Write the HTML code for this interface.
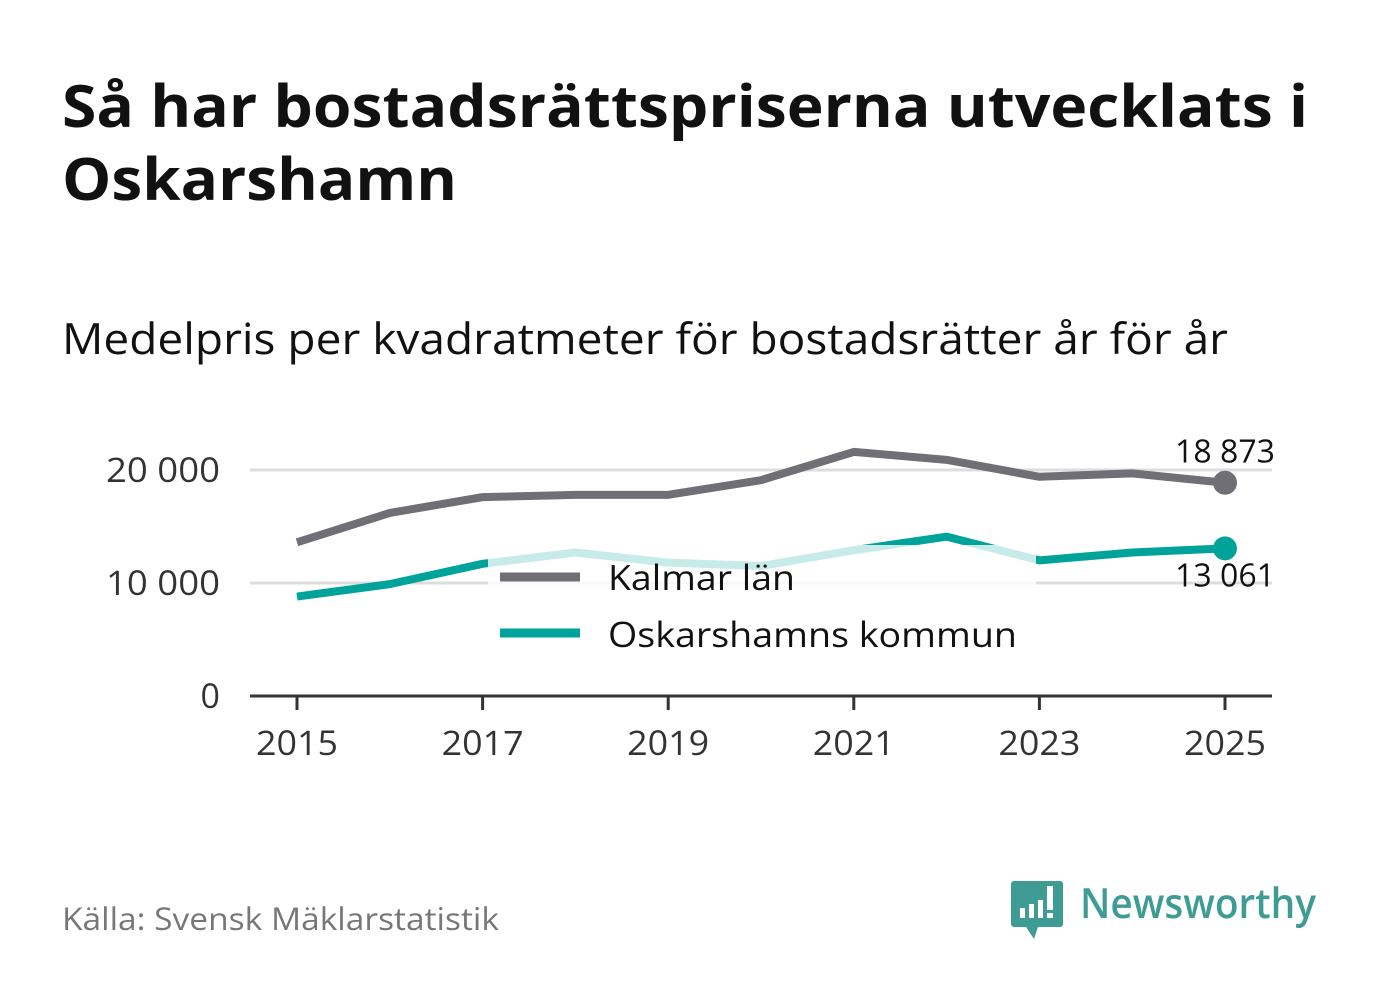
<!DOCTYPE html>
<html><head><meta charset="utf-8">
<style>
body{margin:0;background:#fff;width:1382px;height:999px;overflow:hidden;font-family:"Open Sans","Liberation Sans","DejaVu Sans",sans-serif;}
</style></head>
<body>
<svg width="1382" height="999" xmlns="http://www.w3.org/2000/svg">
<text x="62" y="127" font-size="58" font-weight="bold" fill="#111" textLength="1246" lengthAdjust="spacingAndGlyphs">Så har bostadsrättspriserna utvecklats i</text>
<text x="62" y="200" font-size="58" font-weight="bold" fill="#111" textLength="395" lengthAdjust="spacingAndGlyphs">Oskarshamn</text>
<text x="62" y="354" font-size="43" fill="#111" textLength="1166" lengthAdjust="spacingAndGlyphs">Medelpris per kvadratmeter för bostadsrätter år för år</text>
<g id="grid"></g>
<g id="lines"></g>
<rect x="488" y="545" width="548" height="120" fill="#fff" fill-opacity="0.78"/>
<g>
<line x1="500" y1="577" x2="580" y2="577" stroke="#706f76" stroke-width="9"/>
<text x="608" y="590" font-size="35" fill="#111" textLength="187" lengthAdjust="spacingAndGlyphs">Kalmar län</text>
<line x1="500" y1="633" x2="580" y2="633" stroke="#00a39a" stroke-width="9"/>
<text x="608" y="647" font-size="35" fill="#111" textLength="409" lengthAdjust="spacingAndGlyphs">Oskarshamns kommun</text>
</g>
<g id="axes"></g>
<text x="62" y="930" font-size="31" fill="#777" textLength="437" lengthAdjust="spacingAndGlyphs">Källa: Svensk Mäklarstatistik</text>
<g>
<path d="M1014 881 h46 a3 3 0 0 1 3 3 v40 a3 3 0 0 1 -3 3 h-22 l-4 12 l-8 -12 h-12 a3 3 0 0 1 -3 -3 v-40 a3 3 0 0 1 3 -3z" fill="#3e9c94"/>
<rect x="1020" y="908" width="5" height="10" fill="#fff"/><rect x="1029" y="904" width="5" height="14" fill="#fff"/><rect x="1038" y="900" width="5" height="18" fill="#fff"/><rect x="1047" y="886" width="6" height="24" fill="#fff"/><rect x="1047" y="913" width="6" height="5" fill="#fff"/>
<text x="1080" y="918" font-size="42" font-weight="600" fill="#3e9c94" textLength="236" lengthAdjust="spacingAndGlyphs">Newsworthy</text>
</g>
</svg>
<script>
const years=[2015,2016,2017,2018,2019,2020,2021,2022,2023,2024,2025];
const kalmar=[13600,16200,17600,17800,17800,19100,21600,20900,19400,19700,18873];
const oskarshamn=[8800,9900,11700,12700,11800,11500,12900,14100,12000,12700,13061];
const yTicks=[0,10000,20000];
const yTickLabels=["0","10 000","20 000"];
const xTickYears=[2015,2017,2019,2021,2023,2025];
const NS="http://www.w3.org/2000/svg";
const X=y=>297+(y-2015)*92.8;
const Y=v=>696-v*0.0113;
function mk(tag,attrs,parent,txt){const e=document.createElementNS(NS,tag);for(const k in attrs)e.setAttribute(k,attrs[k]);if(txt!=null)e.textContent=txt;parent.appendChild(e);return e;}
const grid=document.getElementById('grid'),lines=document.getElementById('lines'),axes=document.getElementById('axes');
yTicks.forEach((t,i)=>{
 if(t>0){const g=mk('line',{x1:250,x2:1272,y1:Y(t),y2:Y(t),stroke:'#ddd','stroke-width':3},grid);
 
 }
 const attrs={x:220,y:Y(t)+12,'font-size':34,fill:'#333','text-anchor':'end'};
 if(yTickLabels[i].length>1){attrs.textLength=114;attrs.lengthAdjust='spacingAndGlyphs';}
 const l=mk('text',attrs,axes,yTickLabels[i]);
 
 
});
const ax=mk('line',{x1:250,x2:1272,y1:696,y2:696,stroke:'#333','stroke-width':3},axes);


xTickYears.forEach(y=>{
 const t=mk('line',{x1:X(y),x2:X(y),y1:696,y2:710,stroke:'#333','stroke-width':3},axes);
 
 
 const l=mk('text',{x:X(y),y:755,'font-size':34,fill:'#333','text-anchor':'middle',textLength:82,lengthAdjust:'spacingAndGlyphs'},axes,String(y));
 
 
});
function series(vals,color,name){
 const p=mk('polyline',{points:vals.map((v,i)=>X(years[i])+','+Y(v)).join(' '),fill:'none',stroke:color,'stroke-width':8,'stroke-linejoin':'round'},lines);
 
 
 const n=vals.length-1;
 const c=mk('circle',{cx:X(years[n]),cy:Y(vals[n]),r:12,fill:color},lines);
 
 
}
series(kalmar,'#706f76','kalmar');
series(oskarshamn,'#00a39a','oskarshamn');
function fmt(v){return String(v).replace(/\B(?=(\d{3})+(?!\d))/g,' ');}
const n=years.length-1;
const a=mk('text',{x:1225,y:Y(kalmar[n])-20,'font-size':32,fill:'#111','text-anchor':'middle',textLength:100,lengthAdjust:'spacingAndGlyphs'},lines,fmt(kalmar[n]));


const b=mk('text',{x:1225,y:Y(oskarshamn[n])+38,'font-size':32,fill:'#111','text-anchor':'middle',textLength:100,lengthAdjust:'spacingAndGlyphs'},lines,fmt(oskarshamn[n]));


</script>
</body></html>
